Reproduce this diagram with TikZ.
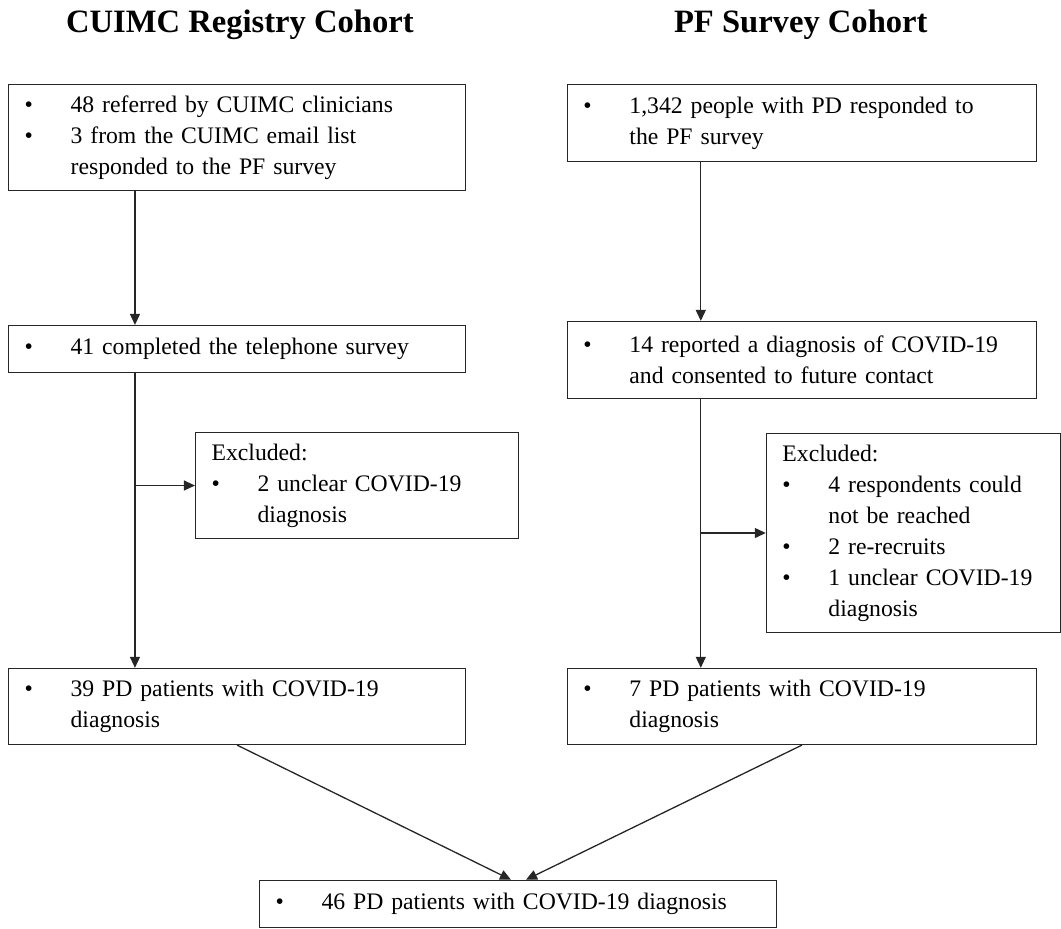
\documentclass[tikz,border=0pt]{standalone}
\usepackage{fontspec}
\setmainfont{Liberation Serif}
\usetikzlibrary{arrows.meta}

\newcommand{\bitem}[1]{\makebox[23pt][l]{\textbullet}#1}
\newcommand{\bcont}[1]{\hspace*{23pt}#1}

\begin{document}
\begin{tikzpicture}[x=0.5pt,y=-0.5pt,font=\fontsize{11.85}{15.5}\selectfont]
  \definecolor{flowline}{HTML}{262626}
  \tikzset{
    flowbox/.style={draw=flowline,line width=0.65pt,anchor=north west,
      align=left,inner xsep=8pt,inner ysep=0pt,text=black},
    flowarrow/.style={draw=flowline,line width=0.65pt,
      -{Triangle[length=5.5pt,width=5pt]}}
  }

  % Cohort headings
  \foreach \x/\name/\title in {240/hleft/{CUIMC Registry Cohort},801/hright/{PF Survey Cohort}}{
    \node[anchor=base,font=\bfseries\fontsize{16.3}{18}\selectfont] (\name) at (\x,33) {\title};
  }

  % Left column
  \node[flowbox,text width=212.5pt,minimum height=53pt] (a1) at (8,84)
    {\bitem{48 referred by CUIMC clinicians}\\
     \bitem{3 from the CUIMC email list}\\
     \bcont{responded to the PF survey}};
  \node[flowbox,text width=212.5pt,minimum height=23.5pt] (a2) at (8,325)
    {\bitem{41 completed the telephone survey}};
  \node[flowbox,text width=145.5pt,minimum height=53pt] (exa) at (195,432)
    {Excluded:\\
     \bitem{2 unclear COVID-19}\\
     \bcont{diagnosis}};
  \node[flowbox,text width=212.5pt,minimum height=38pt] (a3) at (8,668)
    {\bitem{39 PD patients with COVID-19}\\
     \bcont{diagnosis}};

  % Right column
  \node[flowbox,text width=218.5pt,minimum height=38.5pt] (b1) at (567,84)
    {\bitem{1,342 people with PD responded to}\\
     \bcont{the PF survey}};
  \node[flowbox,text width=218.5pt,minimum height=38.5pt] (b2) at (567,321)
    {\bitem{14 reported a diagnosis of COVID-19}\\
     \bcont{and consented to future contact}};
  \node[flowbox,text width=131pt,minimum height=99.5pt] (exb) at (766,433)
    {Excluded:\\
     \bitem{4 respondents could}\\
     \bcont{not be reached}\\
     \bitem{2 re-recruits}\\
     \bitem{1 unclear COVID-19}\\
     \bcont{diagnosis}};
  \node[flowbox,text width=218.5pt,minimum height=38pt] (b3) at (567,668)
    {\bitem{7 PD patients with COVID-19}\\
     \bcont{diagnosis}};

  % Combined cohort
  \node[flowbox,text width=242.5pt,minimum height=23.5pt] (c) at (259,880)
    {\bitem{46 PD patients with COVID-19 diagnosis}};

  % Connectors
  \coordinate (colA) at ([xshift=63.5pt]a1.south west);
  \coordinate (colB) at ([xshift=67pt]b1.south west);
  \draw[flowarrow] (colA) -- (colA |- a2.north);
  \draw[flowarrow] (colA |- a2.south) -- (colA |- a3.north);
  \draw[flowarrow] (colA |- exa.west) -- (exa.west);
  \draw[flowarrow] (colB) -- (colB |- b2.north);
  \draw[flowarrow] (colB |- b2.south) -- (colB |- b3.north);
  \draw[flowarrow] (colB |- exb.west) -- (exb.west);
  \draw[flowarrow] (a3.south) -- ([xshift=-3.5pt]c.north);
  \draw[flowarrow] (b3.south) -- ([xshift=4pt]c.north);

  \path[use as bounding box] (0,0) rectangle (1061,924);
\end{tikzpicture}
\end{document}
